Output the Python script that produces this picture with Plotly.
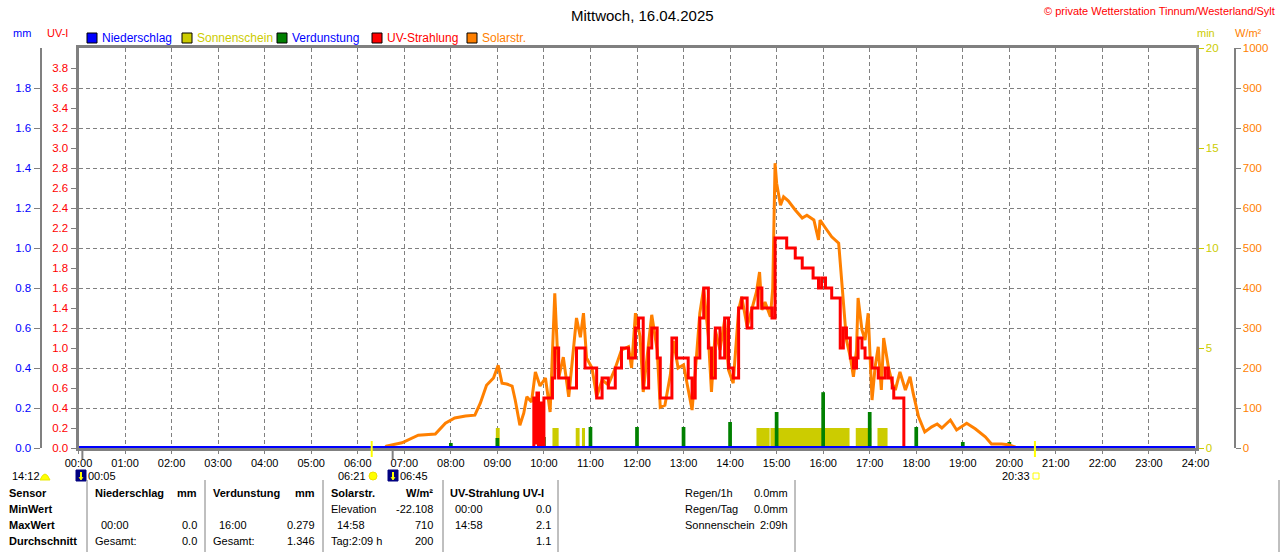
import plotly.graph_objects as go

W, H = 1280, 552
FONT = "Liberation Sans, Arial, sans-serif"

# Solarstrahlung W/m2
solar_t = ["06:35", "06:37", "06:57", "07:18", "07:40", "07:53", "08:05", "08:19", "08:31", "08:38",
           "08:46", "08:55", "09:01", "09:06", "09:12", "09:19", "09:23", "09:29", "09:34", "09:38",
           "09:44", "09:49", "09:55", "10:02", "10:08", "10:14", "10:19", "10:25", "10:32", "10:36",
           "10:42", "10:47", "10:51", "10:55", "11:02", "11:08", "11:15", "11:23", "11:32", "11:40",
           "11:49", "11:53", "11:58", "12:04", "12:08", "12:13", "12:19", "12:26", "12:30", "12:36",
           "12:43", "12:47", "12:53", "13:00", "13:04", "13:11", "13:15", "13:21", "13:26", "13:32",
           "13:36", "13:41", "13:47", "13:53", "13:58", "14:04", "14:11", "14:15", "14:22", "14:28",
           "14:34", "14:38", "14:41", "14:45", "14:52", "14:55", "14:57", "14:58", "15:00", "15:05",
           "15:09", "15:15", "15:24", "15:33", "15:39", "15:48", "15:54", "15:56", "16:03", "16:11",
           "16:20", "16:24", "16:28", "16:30", "16:35", "16:39", "16:43", "16:45", "16:50", "16:54",
           "16:58", "17:03", "17:07", "17:11", "17:15", "17:18", "17:24", "17:29", "17:33", "17:39",
           "17:46", "17:52", "17:56", "18:03", "18:11", "18:20", "18:27", "18:33", "18:44", "18:52",
           "19:05", "19:16", "19:29", "19:37", "19:50", "19:59", "20:08"]
solar_v = [0, 5, 13, 32, 35, 62, 75, 80, 82, 112,
           157, 175, 207, 162, 160, 155, 120, 57, 87, 128,
           115, 190, 155, 175, 90, 387, 175, 227, 128, 210,
           325, 277, 337, 225, 200, 128, 170, 158, 200, 245,
           253, 200, 337, 278, 140, 227, 333, 245, 102, 107,
           183, 268, 200, 208, 167, 95, 187, 337, 400, 278,
           140, 295, 245, 320, 195, 162, 345, 378, 303, 350,
           390, 440, 345, 365, 328, 400, 600, 712, 662, 607,
           628, 618, 595, 575, 582, 570, 520, 570, 550, 528,
           512, 420, 328, 270, 228, 178, 245, 375, 295, 270,
           337, 120, 203, 253, 145, 275, 203, 162, 145, 190,
           145, 178, 137, 78, 40, 53, 60, 50, 70, 45,
           62, 48, 28, 10, 10, 8, 2]

# UV-Strahlung UV-I
uv_t = ["09:46", "09:47", "09:49", "09:51", "09:53", "09:55", "09:57", "10:00", "10:08", "10:11",
        "10:14", "10:19", "10:25", "10:32", "10:36", "10:42", "10:49", "10:53", "11:02", "11:08",
        "11:15", "11:23", "11:32", "11:40", "11:49", "11:58", "12:02", "12:08", "12:15", "12:19",
        "12:26", "12:30", "12:36", "12:45", "12:51", "13:00", "13:06", "13:11", "13:15", "13:21",
        "13:26", "13:32", "13:36", "13:41", "13:47", "13:53", "13:58", "14:04", "14:11", "14:15",
        "14:22", "14:28", "14:36", "14:41", "14:50", "14:54", "14:58", "15:13", "15:24", "15:33",
        "15:47", "15:54", "15:58", "16:03", "16:11", "16:22", "16:26", "16:30", "16:35", "16:39",
        "16:43", "16:45", "16:50", "16:54", "17:03", "17:11", "17:20", "17:24", "17:29", "17:31",
        "17:44"]
uv_v = [0.0, 0.5, 0.05, 0.55, 0.0, 0.45, 0.0, 0.5, 0.5, 0.7,
        1.0, 0.7, 0.7, 0.6, 0.6, 1.0, 1.0, 0.8, 0.8, 0.5,
        0.7, 0.6, 0.8, 1.0, 0.9, 1.2, 1.3, 0.6, 1.0, 1.2,
        0.9, 0.5, 0.5, 1.1, 0.9, 0.9, 0.7, 0.5, 0.9, 1.3,
        1.6, 1.0, 0.7, 1.2, 0.9, 1.3, 0.8, 0.7, 1.4, 1.5,
        1.2, 1.4, 1.6, 1.4, 1.4, 1.3, 2.1, 2.0, 1.9, 1.8,
        1.7, 1.6, 1.7, 1.6, 1.5, 1.0, 1.2, 1.1, 0.9, 0.8,
        0.9, 1.1, 1.0, 0.9, 0.8, 0.7, 0.8, 0.7, 0.6, 0.5,
        0.0]

# Verdunstung mm (stuendlich)
evap_t = ["08:00", "09:00", "10:00", "11:00", "12:00", "13:00", "14:00",
          "15:00", "16:00", "17:00", "18:00", "19:00", "20:00"]
evap_mm = [0.025, 0.05, 0.055, 0.105, 0.105, 0.105, 0.13,
           0.18, 0.279, 0.18, 0.105, 0.03, 0.03]

# Sonnenschein min
sun_start = ["08:58", "10:11", "10:41", "10:49", "14:34", "14:52", "16:42", "17:10"]
sun_end = ["09:03", "10:19", "10:46", "10:53", "14:51", "16:34", "17:02", "17:23"]
sun_min = [1, 1, 1, 1, 1, 1, 1, 1]

# Niederschlag mm
rain_t = ["00:00", "24:00"]
rain_mm = [0.0, 0.0]

# Sonnenauf-/untergang, Mond
sun_events = ["06:18", "20:33"]
moon_events = ["00:05", "06:45"]

hour_vals = [0, 1, 2, 3, 4, 5, 6, 7, 8, 9, 10, 11, 12, 13, 14, 15, 16, 17, 18, 19, 20, 21, 22, 23, 24]
hour_labels = ["00:00", "01:00", "02:00", "03:00", "04:00", "05:00", "06:00", "07:00", "08:00",
               "09:00", "10:00", "11:00", "12:00", "13:00", "14:00", "15:00", "16:00", "17:00",
               "18:00", "19:00", "20:00", "21:00", "22:00", "23:00", "24:00"]
uv_ticks = [0.0, 0.2, 0.4, 0.6, 0.8, 1.0, 1.2, 1.4, 1.6, 1.8, 2.0,
            2.2, 2.4, 2.6, 2.8, 3.0, 3.2, 3.4, 3.6, 3.8]
mm_ticks = [0.0, 0.2, 0.4, 0.6, 0.8, 1.0, 1.2, 1.4, 1.6, 1.8]


def hrs(t):
    h, m = t.split(":")
    return int(h) + int(m) / 60.0


GRAY = "#808080"
ORANGE = "#ff8000"
RED = "#ff0000"
GREEN = "#008000"
OLIVE = "#cccc00"
BLUE = "#0000ff"

fig = go.Figure()

fig.add_trace(go.Bar(
    x=[hrs(s) for s in sun_start], y=sun_min,
    width=[hrs(e) - hrs(s) for s, e in zip(sun_start, sun_end)], offset=0,
    marker=dict(color=OLIVE, line=dict(width=0)), yaxis="y", name="Sonnenschein"))

fig.add_trace(go.Bar(
    x=[hrs(t) for t in evap_t], y=evap_mm, width=0.08, offset=-0.04,
    marker=dict(color=GREEN, line=dict(width=0)), yaxis="y2", name="Verdunstung"))

fig.add_trace(go.Scatter(
    x=[hrs(t) for t in solar_t], y=solar_v, mode="lines",
    line=dict(color=ORANGE, width=3), yaxis="y3", name="Solarstr."))

fig.add_trace(go.Scatter(
    x=[hrs(t) for t in uv_t], y=uv_v, mode="lines", line_shape="hv",
    line=dict(color=RED, width=3), yaxis="y4", name="UV-Strahlung"))

fig.add_trace(go.Scatter(
    x=[hrs(t) for t in rain_t], y=rain_mm, mode="lines",
    line=dict(color=BLUE, width=4), yaxis="y4", name="Niederschlag"))

x0, x1 = 78.5 / W, 1195.5 / W
yd = [(H - 448) / H, (H - 48) / H]
TF = 11.5

fig.update_layout(
    width=W, height=H, autosize=False,
    margin=dict(l=0, r=0, t=0, b=0, autoexpand=False),
    paper_bgcolor="white", plot_bgcolor="white",
    showlegend=False, barmode="overlay",
    font=dict(family=FONT, size=12, color="black"),
    xaxis=dict(domain=[x0, x1], range=[0, 24], tickvals=hour_vals, ticktext=hour_labels,
               showgrid=True, gridcolor=GRAY, griddash="4px,3px", gridwidth=1,
               showline=True, linecolor=GRAY, linewidth=3, mirror=True, automargin=False,
               ticks="outside", ticklen=3, tickcolor=GRAY, zeroline=False, ticklabelstandoff=0,
               tickfont=dict(family=FONT, size=11, color="black")),
    yaxis=dict(domain=yd, range=[0, 20], tickvals=[0, 5, 10, 15, 20], side="right", anchor="x",
               showgrid=False, zeroline=False, showline=True, linecolor=GRAY, linewidth=3,
               ticks="outside", ticklen=5, tickcolor=OLIVE, automargin=False,
               tickfont=dict(family=FONT, size=TF, color=OLIVE)),
    yaxis2=dict(range=[0, 2], tickvals=mm_ticks, ticktext=["%.1f" % v for v in mm_ticks],
                overlaying="y", anchor="free", position=40.5 / W, side="left",
                showgrid=False, zeroline=False, showline=True, linecolor=GRAY, linewidth=2,
                ticks="outside", ticklen=6, tickcolor=GRAY, automargin=False,
                tickfont=dict(family=FONT, size=TF, color=BLUE)),
    yaxis3=dict(range=[0, 1000], dtick=100, overlaying="y", anchor="free",
                position=1234.5 / W, side="right",
                showgrid=True, gridcolor=GRAY, griddash="4px,3px", gridwidth=1,
                zeroline=False, showline=True, linecolor=GRAY, linewidth=2,
                ticks="outside", ticklen=5, tickcolor=GRAY, automargin=False,
                tickfont=dict(family=FONT, size=TF, color=ORANGE)),
    yaxis4=dict(range=[0, 4], tickvals=uv_ticks, ticktext=["%.1f" % v for v in uv_ticks],
                overlaying="y", anchor="x", side="left",
                showgrid=False, zeroline=False, showline=True, linecolor=GRAY, linewidth=3,
                ticks="outside", ticklen=5, tickcolor=GRAY, automargin=False,
                tickfont=dict(family=FONT, size=TF, color=RED)),
)


def txt(x, y, s, color="black", size=11, anchor="left", bold=False):
    fig.add_annotation(x=x / W, y=1 - y / H, xref="paper", yref="paper",
                       text="<b>%s</b>" % s if bold else s, showarrow=False,
                       xanchor=anchor, yanchor="middle", borderpad=0,
                       font=dict(family=FONT, size=size, color=color))


def rect(xa, ya, xb, yb, fill, line="black"):
    fig.add_shape(type="rect", xref="paper", yref="paper",
                  x0=xa / W, x1=xb / W, y0=1 - yb / H, y1=1 - ya / H,
                  fillcolor=fill, line=dict(color=line, width=1))


def seg(xa, ya, xb, yb, color=GRAY, width=1):
    fig.add_shape(type="line", xref="paper", yref="paper",
                  x0=xa / W, x1=xb / W, y0=1 - ya / H, y1=1 - yb / H,
                  line=dict(color=color, width=width))


# Titel
txt(642, 15, "Mittwoch, 16.04.2025", size=15, anchor="center")
txt(1276, 11, "© private Wetterstation Tinnum/Westerland/Sylt", color=RED, size=11, anchor="right")

# Achsentitel
txt(22, 33, "mm", color=BLUE, anchor="center")
txt(57, 33, "UV-I", color=RED, anchor="center")
txt(1206, 33, "min", color=OLIVE, anchor="center")
txt(1248, 33, "W/m²", color=ORANGE, anchor="center")

# Legende
legend = [(87, BLUE, "Niederschlag", BLUE), (182, OLIVE, "Sonnenschein", OLIVE),
          (277, GREEN, "Verdunstung", BLUE), (372, RED, "UV-Strahlung", RED),
          (467, ORANGE, "Solarstr.", ORANGE)]
for lx, fill, label, tcol in legend:
    rect(lx, 33, lx + 10, 43, fill)
    txt(lx + 14, 38, label, color=tcol, size=12)

# Sonnen-/Mondmarken an der Zeitachse
for t in sun_events:
    fig.add_shape(type="line", xref="x", yref="paper", x0=hrs(t), x1=hrs(t),
                  y0=1 - 457 / H, y1=1 - 441 / H, line=dict(color="#ffff00", width=2))
for t in moon_events:
    fig.add_shape(type="line", xref="x", yref="paper", x0=hrs(t), x1=hrs(t),
                  y0=1 - 459 / H, y1=1 - 448 / H, line=dict(color=GRAY, width=2))

# Symbole unter der Zeitachse
ry = 476
txt(11, ry, "14:12", size=11)
fig.add_shape(type="path", xref="paper", yref="paper",
              path="M %f,%f Q %f,%f %f,%f Z" % (40 / W, 1 - (ry + 4) / H, 45 / W, 1 - (ry - 8) / H,
                                                50 / W, 1 - (ry + 4) / H),
              fillcolor="#ffff00", line=dict(color="#e8e800", width=1))
for mx in [76, 388]:
    rect(mx, ry - 6, mx + 10, ry + 5, "#000080", line="#000080")
    seg(mx + 5, ry - 4, mx + 5, ry + 3, color="#ffff00", width=2)
    seg(mx + 3, ry + 1, mx + 5, ry + 4, color="#ffff00", width=1)
    seg(mx + 7, ry + 1, mx + 5, ry + 4, color="#ffff00", width=1)
txt(87, ry, "00:05", size=11)
txt(337, ry, "06:21", size=11)
fig.add_shape(type="circle", xref="paper", yref="paper", x0=369 / W, x1=377 / W,
              y0=1 - (ry + 4) / H, y1=1 - (ry - 4) / H, fillcolor="#ffff00",
              line=dict(color="#f0e000", width=1))
txt(399, ry, "06:45", size=11)
txt(1001, ry, "20:33", size=11)
rect(1033, ry - 3, 1039, ry + 3, "white", line="#ffff00")

# Tabelle
for sx in [87, 205, 323, 443, 558, 795, 1279]:
    seg(sx, 480, sx, 552)

rows = [493, 509, 525, 541]
txt(8, rows[0], "Sensor", bold=True)
txt(8, rows[1], "MinWert", bold=True)
txt(8, rows[2], "MaxWert", bold=True)
txt(8, rows[3], "Durchschnitt", bold=True)

txt(94, rows[0], "Niederschlag", bold=True)
txt(198, rows[0], "mm", bold=True, anchor="right")
txt(100, rows[2], "00:00")
txt(198, rows[2], "0.0", anchor="right")
txt(94, rows[3], "Gesamt:")
txt(198, rows[3], "0.0", anchor="right")

txt(212, rows[0], "Verdunstung", bold=True)
txt(316, rows[0], "mm", bold=True, anchor="right")
txt(218, rows[2], "16:00")
txt(316, rows[2], "0.279", anchor="right")
txt(212, rows[3], "Gesamt:")
txt(316, rows[3], "1.346", anchor="right")

txt(330, rows[0], "Solarstr.", bold=True)
txt(434, rows[0], "W/m²", bold=True, anchor="right")
txt(330, rows[1], "Elevation")
txt(434, rows[1], "-22.108", anchor="right")
txt(336, rows[2], "14:58")
txt(434, rows[2], "710", anchor="right")
txt(330, rows[3], "Tag:2:09 h")
txt(434, rows[3], "200", anchor="right")

txt(449, rows[0], "UV-Strahlung UV-I", bold=True)
txt(454, rows[1], "00:00")
txt(552, rows[1], "0.0", anchor="right")
txt(454, rows[2], "14:58")
txt(552, rows[2], "2.1", anchor="right")
txt(552, rows[3], "1.1", anchor="right")

txt(684, rows[0], "Regen/1h")
txt(789, rows[0], "0.0mm", anchor="right")
txt(684, rows[1], "Regen/Tag")
txt(789, rows[1], "0.0mm", anchor="right")
txt(684, rows[2], "Sonnenschein")
txt(789, rows[2], "2:09h", anchor="right")

fig.write_html("out.html", config={"displayModeBar": False},
               post_script="document.body.style.margin='0';document.body.style.overflow='hidden';")
